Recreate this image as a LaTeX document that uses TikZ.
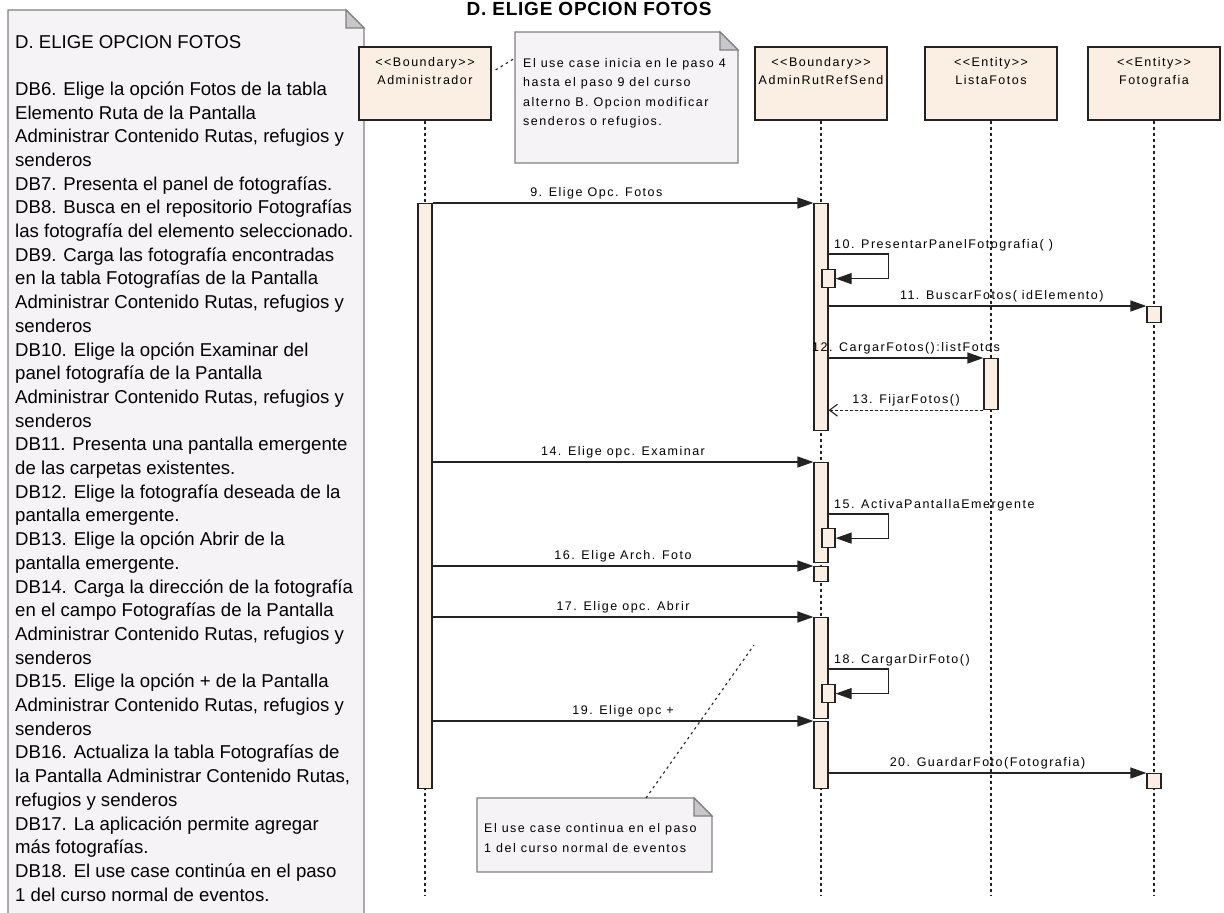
\documentclass[tikz,border=0pt]{standalone}
\usepackage{fontspec}
\setmainfont{Liberation Sans}
\newfontfamily\umlfont{Liberation Sans}[LetterSpace=12,Ligatures=TeXOff]
\newfontfamily\titlefont{Liberation Sans}[LetterSpace=4]
\usetikzlibrary{arrows.meta,calc}

\definecolor{objfill}{RGB}{250,239,226}
\definecolor{notefill}{RGB}{245,243,246}
\definecolor{notegray}{RGB}{128,128,128}
\definecolor{foldfill}{RGB}{200,200,204}
\definecolor{edge}{RGB}{35,35,35}

% caja de objeto: estereotipo y nombre arriba
\newcommand{\stereo}[2]{\parbox[c][73pt][t]{130pt}{\centering
  \umlfont\fontsize{12.5}{18}\selectfont\rule{0pt}{19.5pt}<<#1>>\\#2}}

% nota con esquina doblada, de (#1) arriba-izq. a (#2) abajo-der.
\newcommand{\notebox}[2]{%
  \filldraw[notebg] (#1) -- ($(#2|-#1)+(-18,0)$) -- ($(#2|-#1)+(0,18)$)
    -- (#2) -- (#1|-#2) -- cycle;
  \filldraw[notefold] ($(#2|-#1)+(-18,0)$) -- ($(#2|-#1)+(-18,18)$)
    -- ($(#2|-#1)+(0,18)$) -- cycle;}

\tikzset{
  obj/.style={draw=edge, fill=objfill, line width=1.2pt, minimum width=132pt,
    minimum height=73pt, inner sep=0pt},
  act/.style={draw=edge, fill=objfill, line width=1.2pt, minimum width=14pt,
    inner sep=0pt, anchor=north},
  life/.style={draw=edge, line width=1.2pt, dash pattern=on 3pt off 3pt},
  msg/.style={draw=edge, line width=1.2pt, -{Triangle[length=16pt,width=11pt]}},
  ret/.style={draw=edge, line width=1.1pt, dash pattern=on 3pt off 2pt,
    -{Straight Barb[length=8pt,width=12pt]}},
  lbl/.style={font=\umlfont\fontsize{12.5}{15}\selectfont, anchor=base,
    yshift=6.5pt, inner sep=0pt},
  slbl/.style={font=\umlfont\fontsize{12.5}{15}\selectfont, anchor=base west,
    xshift=5pt, yshift=6pt, inner sep=0pt},
  notebg/.style={draw=notegray, fill=notefill, line width=1.1pt},
  notefold/.style={draw=notegray, fill=foldfill, line width=1.1pt},
  notetxt/.style={anchor=north west, inner sep=0pt, align=left},
  link/.style={draw=edge, line width=1.1pt, dash pattern=on 2.5pt off 3.5pt}
}

\begin{document}
\begin{tikzpicture}[x=1pt,y=-1pt]
\useasboundingbox (0,0) rectangle (1224,913);

% titulo
\node[font=\titlefont\bfseries\fontsize{19}{22}\selectfont, anchor=base] (titulo)
  at (589,15) {D. ELIGE OPCION FOTOS};

% notas
\coordinate (nA) at (8,10);    \coordinate (nB) at (364,925);
\coordinate (nC) at (515,32);  \coordinate (nD) at (738,163);
\coordinate (nE) at (477,798); \coordinate (nF) at (712,872);
\notebox{nA}{nB}
\notebox{nC}{nD}
\notebox{nE}{nF}

\node[notetxt, font=\fontsize{18.6}{23.7}\selectfont] (desc) at (15,34.8) {%
D. ELIGE OPCION FOTOS\\[23.7pt]
DB6. Elige la opción Fotos de la tabla\\
Elemento Ruta de la Pantalla\\
Administrar Contenido Rutas, refugios y\\
senderos\\
DB7. Presenta el panel de fotografías.\\
DB8. Busca en el repositorio Fotografías\\
las fotografía del elemento seleccionado.\\
DB9. Carga las fotografía encontradas\\
en la tabla Fotografías de la Pantalla\\
Administrar Contenido Rutas, refugios y\\
senderos\\
DB10. Elige la opción Examinar del\\
panel fotografía de la Pantalla\\
Administrar Contenido Rutas, refugios y\\
senderos\\
DB11. Presenta una pantalla emergente\\
de las carpetas existentes.\\
DB12. Elige la fotografía deseada de la\\
pantalla emergente.\\
DB13. Elige la opción Abrir de la\\
pantalla emergente.\\
DB14. Carga la dirección de la fotografía\\
en el campo Fotografías de la Pantalla\\
Administrar Contenido Rutas, refugios y\\
senderos\\
DB15. Elige la opción + de la Pantalla\\
Administrar Contenido Rutas, refugios y\\
senderos\\
DB16. Actualiza la tabla Fotografías de\\
la Pantalla Administrar Contenido Rutas,\\
refugios y senderos\\
DB17. La aplicación permite agregar\\
más fotografías.\\
DB18. El use case continúa en el paso\\
1 del curso normal de eventos.};

\node[notetxt, font=\umlfont\fontsize{12.5}{19.2}\selectfont] (inicio) at (523,58.5) {%
El use case inicia en le paso 4\\
hasta el paso 9 del curso\\
alterno B. Opcion modificar\\
senderos o refugios.};

\node[notetxt, font=\umlfont\fontsize{12.5}{20}\selectfont] (fin-nota) at (484,823.5) {%
El use case continua en el paso\\
1 del curso normal de eventos};

% objetos
\node[obj] (adm) at (425,83.5) {\stereo{Boundary}{Administrador}};
\node[obj] (rut) at (821,83.5) {\stereo{Boundary}{AdminRutRefSend}};
\node[obj] (lis) at (991,83.5) {\stereo{Entity}{ListaFotos}};
\node[obj] (fot) at (1154,83.5) {\stereo{Entity}{Fotografia}};

% lineas de vida
\coordinate (fin) at (0,895);
\foreach \o in {adm,rut,lis,fot}
  \draw[life] (\o.south) -- (\o.south |- fin);

% enlaces de las notas
\coordinate (punta) at (754,645);
\draw[link] ($(adm.east)+(4,-13.5)$) -- ($(nC)+(0,26)$);
\draw[link] ($(nE)+(169,0)$) -- (punta);

% activaciones
\node[act, minimum height=585pt] (aA) at (425,203) {};
\node[act, minimum height=227pt] (r1) at (821,203) {};
\node[act, minimum height=100pt] (r2) at (821,462) {};
\node[act, minimum height=15pt]  (r3) at (821,566) {};
\node[act, minimum height=101pt] (r4) at (821,617) {};
\node[act, minimum height=67pt]  (r5) at (821,721) {};
\node[act, minimum width=13pt, minimum height=18pt] (s10) at (828.5,269) {};
\node[act, minimum width=13pt, minimum height=19pt] (s15) at (828.5,528) {};
\node[act, minimum width=13pt, minimum height=18pt] (s18) at (828.5,684) {};
\node[act, minimum height=51pt] (l1) at (991,358) {};
\node[act, minimum height=16pt] (f1) at (1154,306) {};
\node[act, minimum height=15pt] (f2) at (1154,773) {};

% mensajes
\draw[msg] (aA.east |- r1.north) -- node[lbl, pos=.43] (m9) {9. Elige Opc. Fotos} (r1.north west);
\draw[msg] ([yshift=-51pt]r1.north east) node[slbl] (m10) {10. PresentarPanelFotografia( )}
  -- ++(60,0) |- (s10.east);
\draw[msg] (r1.east |- f1.north) -- node[lbl, pos=.545] (m11) {11. BuscarFotos( idElemento)} (f1.north west);
\draw[msg] (r1.east |- l1.north) -- node[lbl] (m12) {12. CargarFotos():listFotos} (l1.north west);
\draw[ret] (l1.south west) -- node[lbl] (m13) {13. FijarFotos()} (r1.east |- l1.south);
\draw[msg] (aA.east |- r2.north) -- node[lbl] (m14) {14. Elige opc. Examinar} (r2.north west);
\draw[msg] ([yshift=-52pt]r2.north east) node[slbl] (m15) {15. ActivaPantallaEmergente}
  -- ++(60,0) |- (s15.east);
\draw[msg] (aA.east |- r3.north) -- node[lbl] (m16) {16. Elige Arch. Foto} (r3.north west);
\draw[msg] (aA.east |- r4.north) -- node[lbl] (m17) {17. Elige opc. Abrir} (r4.north west);
\draw[msg] ([yshift=-52pt]r4.north east) node[slbl] (m18) {18. CargarDirFoto()}
  -- ++(60,0) |- (s18.east);
\draw[msg] (aA.east |- r5.north) -- node[lbl] (m19) {19. Elige opc +} (r5.north west);
\draw[msg] (r5.east |- f2.north) -- node[lbl] (m20) {20. GuardarFoto(Fotografia)} (f2.north west);
\end{tikzpicture}
\end{document}
